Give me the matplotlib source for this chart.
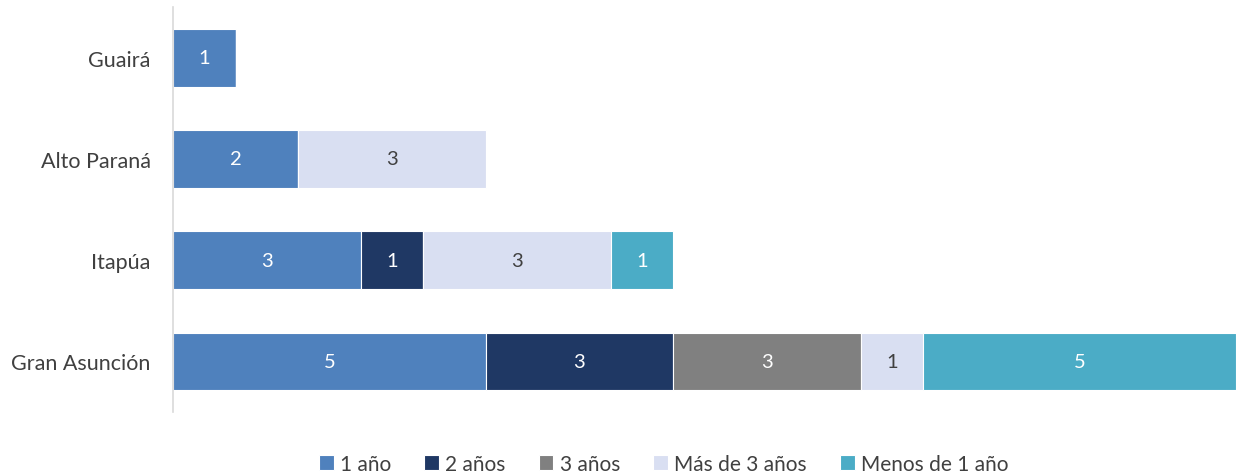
import numpy as np
import matplotlib.pyplot as plt

regiones = ['Gran Asunción', 'Itapúa', 'Alto Paraná', 'Guairá']
series = ['1 año', '2 años', '3 años', 'Más de 3 años', 'Menos de 1 año']
valores = {
    '1 año':          [5, 3, 2, 1],
    '2 años':         [3, 1, 0, 0],
    '3 años':         [3, 0, 0, 0],
    'Más de 3 años':  [1, 3, 3, 0],
    'Menos de 1 año': [5, 1, 0, 0],
}
colores = ['#4F81BD', '#1F3864', '#808080', '#D9DFF2', '#4BACC6']
color_texto = ['white', 'white', 'white', '#404040', 'white']

plt.rcParams['font.family'] = ['Lato', 'DejaVu Sans']

fig = plt.figure(figsize=(12.36, 4.77), dpi=100)
ax = fig.add_axes([0.14, 0.134, 0.86, 0.849])

y = np.arange(len(regiones))
izq = np.zeros(len(regiones))
for s, c, tc in zip(series, colores, color_texto):
    v = np.array(valores[s], dtype=float)
    bars = ax.barh(y, v, left=izq, height=0.57, color=c, edgecolor='white',
                   linewidth=0.8, label=s)
    for b, val in zip(bars, v):
        if val > 0:
            ax.text(b.get_x() + b.get_width() / 2, b.get_y() + b.get_height() / 2,
                    f'{int(val)}', ha='center', va='center', color=tc, fontsize=14.5)
    izq += v

ax.set_xlim(0, 17)
ax.set_ylim(-0.5, 3.5)
ax.set_yticks(y)
ax.set_yticklabels(regiones, fontsize=15.5, color='#404040')
ax.set_xticks([])
ax.tick_params(axis='y', length=0, pad=16)
for sp in ['top', 'right', 'bottom']:
    ax.spines[sp].set_visible(False)
ax.spines['left'].set_color('#D9D9D9')
ax.spines['left'].set_linewidth(1.2)

fig.legend(loc='center', bbox_to_anchor=(0.537, 0.025), ncol=5, frameon=False,
           fontsize=15, handlelength=0.7, handleheight=0.7, handletextpad=0.3,
           columnspacing=1.6, labelcolor='#404040')

fig.savefig('out.png', dpi=100)
